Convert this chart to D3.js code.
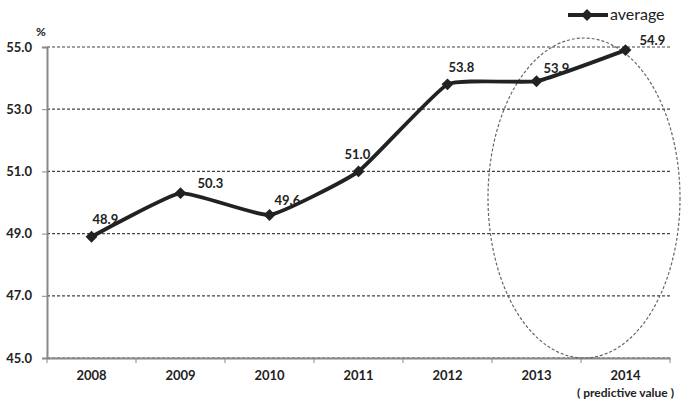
<!DOCTYPE html>
<html>
<head>
<meta charset="utf-8">
<script src="https://cdn.jsdelivr.net/npm/d3@7"></script>
<style>
  body { margin: 0; background: #fff; }
  svg { display: block; font-family: Lato, "Open Sans", sans-serif; }
</style>
</head>
<body>
<svg id="chart" width="685" height="401"></svg>
<script>
// data
const years = ["2008", "2009", "2010", "2011", "2012", "2013", "2014"];
const average = [48.9, 50.3, 49.6, 51.0, 53.8, 53.9, 54.9];
const yTicks = [45, 47, 49, 51, 53, 55];
const seriesName = "average";
const noteText = "( predictive value )";

// hand placed label nudges (like the original, labels sit around the points)
const labelNudge = [[1, -13], [17, -5], [5, -10], [-14, -12], [1, -12], [7, -8], [14, -5]];

const svg = d3.select("#chart");
const plotLeft = 47, plotRight = 670, plotTop = 47, plotBottom = 358;

const x = d3.scaleBand().domain(years).range([plotLeft, plotRight]);
const y = d3.scaleLinear().domain([45, 55]).range([plotBottom, plotTop]);

// dashed gridlines
svg.append("g")
    .selectAll("line")
    .data(yTicks)
    .join("line")
    .attr("x1", plotLeft)
    .attr("x2", plotRight)
    .attr("y1", d => y(d))
    .attr("y2", d => y(d))
    .attr("stroke", "#444")
    .attr("stroke-width", 1.2)
    .attr("stroke-dasharray", "3,2");

// y axis
const yAxis = svg.append("g")
    .attr("transform", `translate(${plotLeft},0)`)
    .call(d3.axisLeft(y).tickValues(yTicks).tickFormat(d3.format(".1f")).tickSize(5).tickPadding(10));
yAxis.select(".domain").attr("stroke", "#888").attr("stroke-width", 2);
yAxis.selectAll(".tick line").attr("stroke", "#888");
yAxis.selectAll("text")
    .attr("font-size", 13)
    .attr("font-weight", "bold")
    .attr("fill", "#222")
    .attr("font-family", "Lato, sans-serif");

// x axis, ticks at the band edges
const xAxis = svg.append("g")
    .attr("transform", `translate(0,${plotBottom})`)
    .call(d3.axisBottom(x).tickSize(0).tickPadding(13));
xAxis.select(".domain").attr("stroke", "#888").attr("stroke-width", 2);
xAxis.selectAll("text")
    .attr("font-size", 13)
    .attr("font-weight", "bold")
    .attr("fill", "#222")
    .attr("font-family", "Lato, sans-serif");
xAxis.selectAll(".edge")
    .data(years.map(d => x(d)).concat([plotRight]))
    .join("line")
    .attr("class", "edge")
    .attr("x1", d => d)
    .attr("x2", d => d)
    .attr("y1", 0)
    .attr("y2", 5)
    .attr("stroke", "#888");

svg.append("text")
    .attr("x", x("2014") + x.bandwidth() / 2)
    .attr("y", 397)
    .attr("text-anchor", "middle")
    .attr("font-size", 12)
    .attr("font-weight", "bold")
    .attr("fill", "#222")
    .text(noteText);

// "%" unit
svg.append("text")
    .attr("x", 36)
    .attr("y", 36)
    .attr("font-size", 12)
    .attr("font-weight", "bold")
    .attr("fill", "#222")
    .text("%");

// dashed ellipse round the predictive part
svg.append("ellipse")
    .attr("cx", (x("2013") + x("2014") + x.bandwidth()) / 2 + 3)
    .attr("cy", (y(45) + 38) / 2)
    .attr("rx", 96)
    .attr("ry", (y(45) - 38) / 2)
    .attr("fill", "none")
    .attr("stroke", "#666")
    .attr("stroke-width", 1.2)
    .attr("stroke-dasharray", "3,2");

// the smoothed line
const pts = average.map((v, i) => [x(years[i]) + x.bandwidth() / 2, y(v)]);
svg.append("path")
    .attr("d", d3.line().curve(d3.curveCardinal.tension(0.6))(pts))
    .attr("fill", "none")
    .attr("stroke", "#222")
    .attr("stroke-width", 3.8);

const diamond = d3.symbol().type(d3.symbolDiamond2).size(90);
svg.append("g")
    .selectAll("path")
    .data(pts)
    .join("path")
    .attr("transform", d => `translate(${d[0]},${d[1]})`)
    .attr("d", diamond)
    .attr("fill", "#222");

// value labels
svg.append("g")
    .selectAll("text")
    .data(average)
    .join("text")
    .attr("x", (d, i) => pts[i][0] + labelNudge[i][0])
    .attr("y", (d, i) => pts[i][1] + labelNudge[i][1])
    .attr("font-size", 13)
    .attr("font-weight", "bold")
    .attr("fill", "#222")
    .text(d => d.toFixed(1));

// legend
const lg = svg.append("g").attr("transform", "translate(568,15)");
lg.append("line").attr("x1", 0).attr("x2", 40).attr("stroke", "#222").attr("stroke-width", 3.8);
lg.append("path").attr("transform", "translate(19,0)").attr("d", diamond).attr("fill", "#222");
lg.append("text")
    .attr("x", 42)
    .attr("y", 5)
    .attr("font-size", 16)
    .attr("fill", "#222")
    .text(seriesName);
</script>
</body>
</html>
